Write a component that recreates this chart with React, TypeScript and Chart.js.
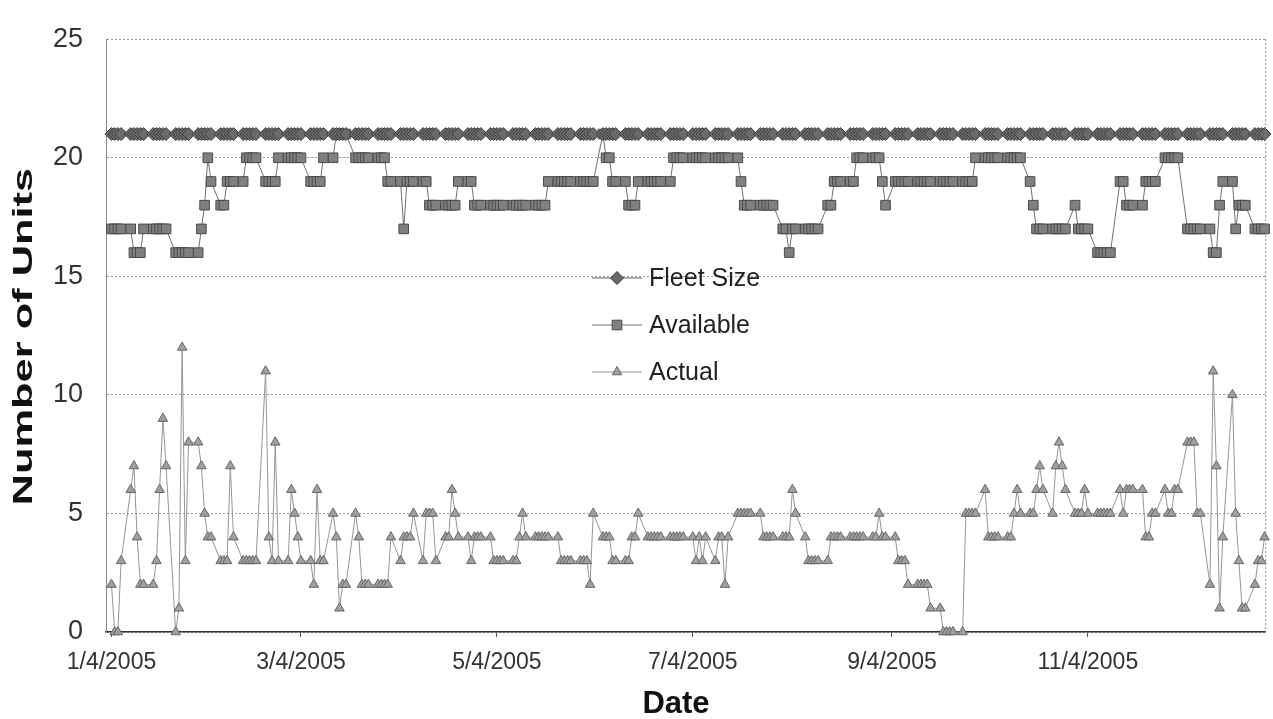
import React, { useEffect, useRef } from "react";
import { Chart, registerables } from "chart.js";
import { drawPoint } from "chart.js/helpers";

Chart.register(...registerables);

// ---------- data ----------
const FIRST_DATE = "1/4/2005";
const LAST_DATE = "12/29/2005";
const X_TICK_LABELS = ["1/4/2005", "3/4/2005", "5/4/2005", "7/4/2005", "9/4/2005", "11/4/2005"];
const SERIES_NAMES = ["Fleet Size", "Available", "Actual"];
const Y_TITLE = "Number of Units";
const X_TITLE = "Date";
const Y_MIN = 0;
const Y_MAX = 25;
const Y_STEP = 5;

// one line per week (weekdays only)
const FLEET_SIZE = [
  21, 21, 21, 21,
  21, 21, 21, 21, 21,
  21, 21, 21, 21, 21,
  21, 21, 21, 21, 21,
  21, 21, 21, 21, 21,
  21, 21, 21, 21, 21,
  21, 21, 21, 21, 21,
  21, 21, 21, 21, 21,
  21, 21, 21, 21, 21,
  21, 21, 21, 21, 21,
  21, 21, 21, 21, 21,
  21, 21, 21, 21, 21,
  21, 21, 21, 21, 21,
  21, 21, 21, 21, 21,
  21, 21, 21, 21, 21,
  21, 21, 21, 21, 21,
  21, 21, 21, 21, 21,
  21, 21, 21, 21, 21,
  21, 21, 21, 21, 21,
  21, 21, 21, 21, 21,
  21, 21, 21, 21, 21,
  21, 21, 21, 21, 21,
  21, 21, 21, 21, 21,
  21, 21, 21, 21, 21,
  21, 21, 21, 21, 21,
  21, 21, 21, 21, 21,
  21, 21, 21, 21, 21,
  21, 21, 21, 21, 21,
  21, 21, 21, 21, 21,
  21, 21, 21, 21, 21,
  21, 21, 21, 21, 21,
  21, 21, 21, 21, 21,
  21, 21, 21, 21, 21,
  21, 21, 21, 21, 21,
  21, 21, 21, 21, 21,
  21, 21, 21, 21, 21,
  21, 21, 21, 21, 21,
  21, 21, 21, 21, 21,
  21, 21, 21, 21, 21,
  21, 21, 21, 21, 21,
  21, 21, 21, 21, 21,
  21, 21, 21, 21, 21,
  21, 21, 21, 21, 21,
  21, 21, 21, 21, 21,
  21, 21, 21, 21, 21,
  21, 21, 21, 21, 21,
  21, 21, 21, 21, 21,
  21, 21, 21, 21, 21,
  21, 21, 21, 21, 21,
  21, 21, 21, 21, 21,
  21, 21, 21, 21, 21,
  21, 21, 21, 21,
];

const AVAILABLE = [
  17, 17, 17, 17,
  17, 16, 16, 16, 17,
  17, 17, 17, 17, 17,
  16, 16, 16, 16, 16,
  16, 17, 18, 20, 19,
  18, 18, 19, 19, 19,
  19, 20, 20, 20, 20,
  19, 19, 19, 19, 20,
  20, 20, 20, 20, 20,
  19, 19, 19, 19, 20,
  20, 21, 21, 21, 21,
  20, 20, 20, 20, 20,
  20, 20, 20, 19, 19,
  19, 17, 19, 19, 19,
  19, 19, 18, 18, 18,
  18, 18, 18, 18, 19,
  19, 19, 18, 18, 18,
  18, 18, 18, 18, 18,
  18, 18, 18, 18, 18,
  18, 18, 18, 18, 19,
  19, 19, 19, 19, 19,
  19, 19, 19, 19, 19,
  21, 20, 20, 19, 19,
  19, 18, 18, 18, 19,
  19, 19, 19, 19, 19,
  19, 20, 20, 20, 20,
  20, 20, 20, 20, 20,
  20, 20, 20, 20, 20,
  20, 19, 18, 18, 18,
  18, 18, 18, 18, 18,
  17, 17, 16, 17, 17,
  17, 17, 17, 17, 17,
  18, 18, 19, 19, 19,
  19, 19, 20, 20, 20,
  20, 20, 20, 19, 18,
  19, 19, 19, 19, 19,
  19, 19, 19, 19, 19,
  19, 19, 19, 19, 19,
  19, 19, 19, 19, 20,
  20, 20, 20, 20, 20,
  20, 20, 20, 20, 20,
  19, 18, 17, 17, 17,
  17, 17, 17, 17, 17,
  18, 17, 17, 17, 17,
  16, 16, 16, 16, 16,
  19, 19, 18, 18, 18,
  18, 19, 19, 19, 19,
  20, 20, 20, 20, 20,
  17, 17, 17, 17, 17,
  17, 16, 16, 18, 19,
  19, 17, 18, 18, 18,
  17, 17, 17, 17,
];

const ACTUAL = [
  2, 0, 0, 3,
  6, 7, 4, 2, 2,
  2, 3, 6, 9, 7,
  0, 1, 12, 3, 8,
  8, 7, 5, 4, 4,
  3, 3, 3, 7, 4,
  3, 3, 3, 3, 3,
  11, 4, 3, 8, 3,
  3, 6, 5, 4, 3,
  3, 2, 6, 3, 3,
  5, 4, 1, 2, 2,
  5, 4, 2, 2, 2,
  2, 2, 2, 2, 4,
  3, 4, 4, 4, 5,
  3, 5, 5, 5, 3,
  4, 4, 6, 5, 4,
  4, 3, 4, 4, 4,
  4, 3, 3, 3, 3,
  3, 3, 4, 5, 4,
  4, 4, 4, 4, 4,
  4, 3, 3, 3, 3,
  3, 3, 3, 2, 5,
  4, 4, 4, 3, 3,
  3, 3, 4, 4, 5,
  4, 4, 4, 4, 4,
  4, 4, 4, 4, 4,
  4, 3, 4, 3, 4,
  3, 4, 4, 2, 4,
  5, 5, 5, 5, 5,
  5, 4, 4, 4, 4,
  4, 4, 4, 6, 5,
  4, 3, 3, 3, 3,
  3, 4, 4, 4, 4,
  4, 4, 4, 4, 4,
  4, 4, 5, 4, 4,
  4, 3, 3, 3, 2,
  2, 2, 2, 2, 1,
  1, 0, 0, 0, 0,
  0, 5, 5, 5, 5,
  6, 4, 4, 4, 4,
  4, 4, 5, 6, 5,
  5, 5, 6, 7, 6,
  5, 7, 8, 7, 6,
  5, 5, 5, 6, 5,
  5, 5, 5, 5, 5,
  6, 5, 6, 6, 6,
  6, 4, 4, 5, 5,
  6, 5, 5, 6, 6,
  8, 8, 8, 5, 5,
  2, 11, 7, 1, 4,
  10, 5, 3, 1, 1,
  2, 3, 3, 4,
];

// ---------- helpers ----------
const DAY_MS = 86400000;
function parseDate(s: string): number {
  const [m, d, y] = s.split("/").map(Number);
  return Date.UTC(y, m - 1, d);
}
const T0 = parseDate(FIRST_DATE);
const dayOffset = (s: string) => (parseDate(s) - T0) / DAY_MS;

function buildWeekdays(): number[] {
  const out: number[] = [];
  const end = parseDate(LAST_DATE);
  for (let t = T0; t <= end; t += DAY_MS) {
    const wd = new Date(t).getUTCDay();
    if (wd !== 0 && wd !== 6) out.push((t - T0) / DAY_MS);
  }
  return out;
}
const DAYS = buildWeekdays();
const toPoints = (vals: number[]) => vals.map((v, i) => ({ x: DAYS[i], y: v }));

const FONT = '"Liberation Sans", Arial, Helvetica, sans-serif';

const STYLES = [
  { line: "#5e5e5e", fill: "#6a6a6a", border: "#3c3c3c", point: "rectRot", radius: 6.5 },
  { line: "#707070", fill: "#808080", border: "#4a4a4a", point: "rect", radius: 6.8 },
  { line: "#959595", fill: "#a0a0a0", border: "#666666", point: "triangle", radius: 5.5 },
];

const decorPlugin = {
  id: "decor",
  afterDraw(chart: any) {
    const ctx = chart.ctx as CanvasRenderingContext2D;
    const area = chart.chartArea;
    // right border (dotted)
    ctx.save();
    ctx.strokeStyle = "#8a8a8a";
    ctx.lineWidth = 1;
    ctx.setLineDash([2, 2]);
    ctx.beginPath();
    ctx.moveTo(area.right + 0.5, area.top);
    ctx.lineTo(area.right + 0.5, area.bottom);
    ctx.stroke();
    ctx.restore();

    // legend inside the plot
    const ys = [278, 325, 372];
    chart.data.datasets.forEach((ds: any, i: number) => {
      const st = STYLES[i];
      const y = ys[i];
      ctx.save();
      ctx.strokeStyle = st.line;
      ctx.lineWidth = 1;
      ctx.beginPath();
      ctx.moveTo(592, y);
      ctx.lineTo(642, y);
      ctx.stroke();
      ctx.fillStyle = st.fill;
      ctx.strokeStyle = st.border;
      ctx.lineWidth = 1;
      drawPoint(ctx, { pointStyle: st.point as any, rotation: 0, radius: st.radius, borderWidth: 1 }, 617, y);
      ctx.fillStyle = "#222";
      ctx.font = `25px ${FONT}`;
      ctx.textAlign = "left";
      ctx.textBaseline = "middle";
      ctx.fillText(ds.label, 649, y + 1);
      ctx.restore();
    });

    // axis titles
    ctx.save();
    ctx.fillStyle = "#111";
    ctx.font = `bold 28px ${FONT}`;
    ctx.textAlign = "center";
    ctx.textBaseline = "middle";
    ctx.translate(24, (area.top + area.bottom) / 2 + 1);
    ctx.rotate(-Math.PI / 2);
    ctx.scale(1.55, 1);
    ctx.fillText(Y_TITLE, 0, 0);
    ctx.restore();

    ctx.save();
    ctx.fillStyle = "#111";
    ctx.font = `bold 31px ${FONT}`;
    ctx.textAlign = "center";
    ctx.textBaseline = "alphabetic";
    ctx.fillText(X_TITLE, 676, 713);
    ctx.restore();
  },
};

export default function App() {
  const ref = useRef<HTMLCanvasElement | null>(null);

  useEffect(() => {
    if (!ref.current) return;
    const tickValues = X_TICK_LABELS.map(dayOffset);
    const chart = new Chart(ref.current, {
      type: "line",
      data: {
        datasets: [FLEET_SIZE, AVAILABLE, ACTUAL].map((vals, i) => ({
          label: SERIES_NAMES[i],
          data: toPoints(vals),
          borderColor: STYLES[i].line,
          borderWidth: 1,
          pointStyle: STYLES[i].point as any,
          pointRadius: STYLES[i].radius,
          pointBackgroundColor: STYLES[i].fill,
          pointBorderColor: STYLES[i].border,
          pointBorderWidth: 1,
          tension: 0,
          clip: 8,
        })),
      },
      options: {
        animation: false,
        responsive: true,
        maintainAspectRatio: false,
        layout: { padding: { top: 20, right: 3, left: 0, bottom: 0 } },
        plugins: { legend: { display: false }, tooltip: { enabled: false } },
        scales: {
          x: {
            type: "linear",
            min: -1.7,
            max: dayOffset(LAST_DATE) + 0.2,
            afterBuildTicks: (scale: any) => {
              scale.ticks = tickValues.map((v) => ({ value: v }));
            },
            afterFit: (scale: any) => {
              scale.height = 87;
            },
            ticks: {
              autoSkip: false,
              maxRotation: 0,
              padding: 12,
              color: "#333",
              font: { family: FONT, size: 23 },
              callback: (v: any) => {
                const idx = tickValues.indexOf(Number(v));
                return idx >= 0 ? X_TICK_LABELS[idx] : "";
              },
            },
            grid: { display: true, drawOnChartArea: false, drawTicks: true, tickLength: 5, color: "#555" },
            border: { display: true, color: "#333", width: 1.5 },
          },
          y: {
            min: Y_MIN,
            max: Y_MAX,
            afterFit: (scale: any) => {
              scale.width = 106;
            },
            ticks: {
              stepSize: Y_STEP,
              padding: 23,
              color: "#333",
              font: { family: FONT, size: 27 },
            },
            grid: { color: "#9a9a9a", lineWidth: 1, drawTicks: false },
            border: { display: true, color: "#8a8a8a", width: 1, dash: [2, 2] },
          },
        },
      },
      plugins: [decorPlugin],
    });
    return () => chart.destroy();
  }, []);

  return (
    <div style={{ position: "absolute", left: 0, top: 0, width: 1273, height: 719, background: "#fff" }}>
      <canvas ref={ref} />
    </div>
  );
}
